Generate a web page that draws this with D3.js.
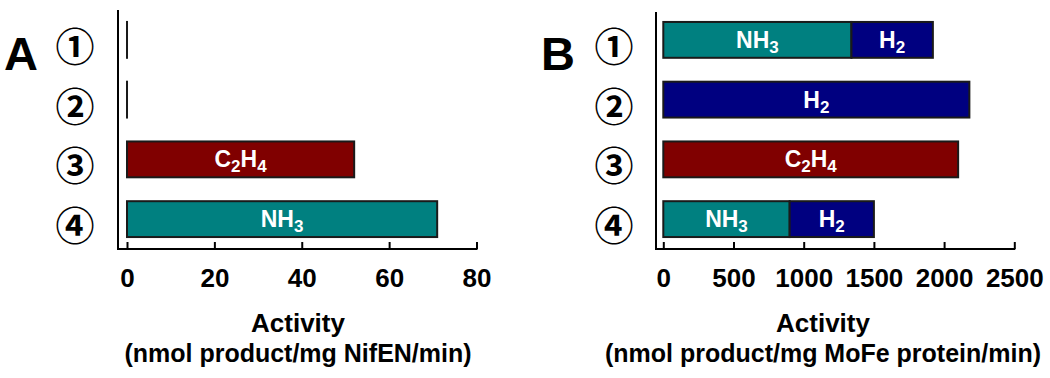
<!DOCTYPE html>
<html>
<head>
<meta charset="utf-8">
<script src="https://cdn.jsdelivr.net/npm/d3@7"></script>
<style>
  body { margin: 0; background: #fff; }
  svg { display: block; font-family: "Liberation Sans", Arial, sans-serif; font-weight: bold; }
</style>
</head>
<body>
<svg id="chart" width="1050" height="378"></svg>
<script>
// reaction conditions (rows, top to bottom)
const rows = ["①", "②", "③", "④"];

// panel A : NifEN activity
const aKeys = ["NH3", "C2H4"];
const aNH3 = [0, 0, 0, 71];
const aC2H4 = [0, 0, 52, 0];
const aTicks = [0, 20, 40, 60, 80];

// panel B : MoFe protein activity
const bKeys = ["NH3", "H2", "C2H4"];
const bNH3 = [1340, 0, 0, 900];
const bH2 = [580, 2180, 0, 600];
const bC2H4 = [0, 0, 2100, 0];
const bTicks = [0, 500, 1000, 1500, 2000, 2500];

const colors = { NH3: "#008080", H2: "#000080", C2H4: "#800000" };
// label pieces: [text, isSubscript]
const labels = {
    NH3: [["NH", false], ["3", true]],
    H2: [["H", false], ["2", true]],
    C2H4: [["C", false], ["2", true], ["H", false], ["4", true]]
};

const svg = d3.select("#chart");

function panel(opts) {
    const { letter, letterX, numX, axisX, axisTop, xRange, domainMax, ticks, keys, series, titleX, unit } = opts;
    const g = svg.append("g");
    const axisY = 249;

    const x = d3.scaleLinear().domain([0, domainMax]).range(xRange);
    const y = d3.scaleBand().domain(rows).range([10, axisY]).paddingInner(0.4).paddingOuter(0.2);

    const table = rows.map((r, i) => {
        const o = { row: r };
        keys.forEach(k => o[k] = series[k][i]);
        return o;
    });
    const stacked = d3.stack().keys(keys)(table);

    // panel letter
    g.append("text")
        .attr("x", letterX).attr("y", 70)
        .attr("text-anchor", "middle")
        .attr("font-size", 47)
        .text(letter);

    // circled row numbers
    g.selectAll("text.num")
        .data(rows)
        .enter().append("text")
        .attr("class", "num")
        .attr("x", numX)
        .attr("y", d => y(d) + y.bandwidth() / 2 + 4)
        .attr("text-anchor", "middle")
        .attr("dominant-baseline", "central")
        .attr("font-family", "'Noto Sans CJK JP', 'DejaVu Sans', sans-serif")
        .attr("font-size", 39)
        .text(d => d);

    // bars (rows with no activity still get a zero-width outline)
    const layer = g.selectAll("g.layer")
        .data(stacked)
        .enter().append("g")
        .attr("class", "layer")
        .attr("fill", d => colors[d.key]);

    layer.selectAll("rect")
        .data(d => d.filter(s => (s[1] - s[0]) > 0 || (d3.sum(keys, k => s.data[k]) === 0 && d.index === 0)))
        .enter().append("rect")
        .attr("x", d => x(d[0]))
        .attr("y", d => y(d.data.row))
        .attr("width", d => Math.max(0.01, x(d[1]) - x(d[0])))
        .attr("height", y.bandwidth())
        .attr("stroke", "#1a1a1a")
        .attr("stroke-width", 2);

    // bar labels
    stacked.forEach(s => {
        s.filter(d => d[1] - d[0] > 0).forEach(d => {
            const t = g.append("text")
                .attr("x", (x(d[0]) + x(d[1])) / 2)
                .attr("y", y(d.data.row) + y.bandwidth() / 2 + 8)
                .attr("text-anchor", "middle")
                .attr("fill", "#fff")
                .attr("font-size", 23);
            let shifted = false;
            labels[s.key].forEach(([txt, sub]) => {
                const dy = sub ? (shifted ? 0 : 5) : (shifted ? -5 : 0);
                t.append("tspan")
                    .attr("dy", dy)
                    .attr("font-size", sub ? 17 : 23)
                    .text(txt);
                shifted = sub;
            });
        });
    });

    // axes
    g.append("line")
        .attr("x1", axisX).attr("x2", axisX)
        .attr("y1", axisTop).attr("y2", axisY + 1)
        .attr("stroke", "#000").attr("stroke-width", 2);
    g.append("line")
        .attr("x1", axisX - 1).attr("x2", x(domainMax) + 1)
        .attr("y1", axisY).attr("y2", axisY)
        .attr("stroke", "#000").attr("stroke-width", 2);

    const xAxis = g.append("g")
        .attr("transform", `translate(0,${axisY})`)
        .call(d3.axisBottom(x).tickValues(ticks).tickFormat(d3.format("d"))
            .tickSizeInner(-7).tickSizeOuter(0).tickPadding(20));
    xAxis.select(".domain").remove();
    xAxis.selectAll(".tick line").attr("stroke", "#000").attr("stroke-width", 2);
    xAxis.selectAll(".tick text")
        .attr("fill", "#000")
        .attr("font-size", 26)
        .attr("font-family", "'Liberation Sans', Arial, sans-serif")
        .attr("font-weight", "bold");

    // axis title
    g.append("text")
        .attr("x", titleX).attr("y", 332)
        .attr("text-anchor", "middle")
        .attr("font-size", 26)
        .text("Activity");
    g.append("text")
        .attr("x", titleX).attr("y", 362)
        .attr("text-anchor", "middle")
        .attr("font-size", 25)
        .text(unit);
}

panel({
    letter: "A", letterX: 21, numX: 75, axisX: 118, axisTop: 10,
    xRange: [127, 476.5], domainMax: 80, ticks: aTicks,
    keys: aKeys, series: { NH3: aNH3, C2H4: aC2H4 },
    titleX: 298, unit: "(nmol product/mg NifEN/min)"
});

panel({
    letter: "B", letterX: 558, numX: 614, axisX: 656, axisTop: 12,
    xRange: [663.3, 1014.3], domainMax: 2500, ticks: bTicks,
    keys: bKeys, series: { NH3: bNH3, H2: bH2, C2H4: bC2H4 },
    titleX: 823, unit: "(nmol product/mg MoFe protein/min)"
});
</script>
</body>
</html>
